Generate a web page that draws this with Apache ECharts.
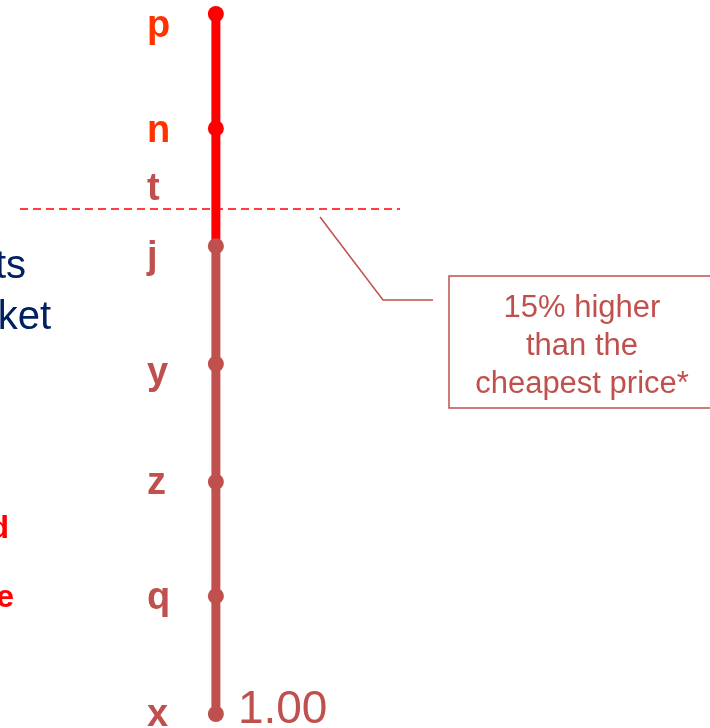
<!DOCTYPE html>
<html>
<head>
<meta charset="utf-8">
<script src="https://cdn.jsdelivr.net/npm/echarts@6/dist/echarts.min.js"></script>
<style>
html,body{margin:0;padding:0;background:#fff;}
#chart{width:710px;height:728px;}
</style>
</head>
<body>
<div id="chart"></div>
<script>
// ---- data ----
const categories = ['p', 'n', 't', 'j', 'y', 'z', 'q', 'x'];
const values     = [1.208, 1.174, 1.157, 1.139, 1.104, 1.069, 1.035, 1.00];
const hasMarker  = [true, true, false, true, true, true, true, true];
const highlighted = ['p', 'n'];
const thresholdValue = 1.15;
const annotationText = ['15% higher', 'than the', 'cheapest price*'];
const sideTextNavy = ['ts', 'ket'];
const sideTextRed = ['d', 'e'];

// ---- styles ----
const RED = '#FF0000';
const MUTED = '#C0504D';
const ORANGE = '#FF3300';
const FONT = '"Liberation Sans", Arial, sans-serif';
const labelNudge = { p: 13, n: 3, t: 4, j: 11, y: 10, z: 2, q: 2, x: 2 };

const pts = categories.map((c, i) => ({ c, v: values[i], m: hasMarker[i] }));
const marked = pts.filter(p => p.m);
const above = marked.filter(p => p.v > thresholdValue);
const below = marked.filter(p => p.v <= thresholdValue);
const minV = Math.min(...values);

const redData = above.map(p => ({ value: [0, p.v], name: p.c }))
  .concat(below.length ? [{ value: [0, below[0].v], name: below[0].c, symbol: 'none' }] : []);

const mutedData = below.map(p => {
  const item = { value: [0, p.v], name: p.c };
  if (p.v === minV) {
    item.label = {
      show: true, position: 'inside', align: 'left', verticalAlign: 'middle',
      offset: [22, -4], formatter: () => p.v.toFixed(2),
      fontSize: 46, fontFamily: FONT, color: MUTED,
      textBorderWidth: 0, textBorderColor: 'transparent'
    };
  }
  return item;
});

const labelData = pts.map(p => ({
  value: [0, p.v], name: p.c,
  label: {
    color: highlighted.includes(p.c) ? ORANGE : MUTED,
    offset: [-69, labelNudge[p.c] || 0]
  }
}));

const chart = echarts.init(document.getElementById('chart'), null, { renderer: 'canvas' });
chart.setOption({
  animation: false,
  backgroundColor: '#fff',
  grid: { left: 20, width: 380, top: 14, bottom: 14 },
  xAxis: { type: 'value', min: -1, max: 0.94, show: false },
  yAxis: { type: 'value', min: minV, max: 'dataMax', show: false },
  series: [
    {
      type: 'line', data: redData, clip: false, z: 2,
      symbol: 'circle', symbolSize: 16, showSymbol: true,
      lineStyle: { color: RED, width: 9 },
      itemStyle: { color: RED },
      label: { show: false }
    },
    {
      type: 'line', data: mutedData, clip: false, z: 3,
      symbol: 'circle', symbolSize: 16, showSymbol: true,
      lineStyle: { color: MUTED, width: 9 },
      itemStyle: { color: MUTED },
      label: { show: false },
      markLine: {
        silent: true, symbol: 'none', animation: false,
        label: { show: false },
        lineStyle: { color: RED, width: 1.5, type: [8, 5] },
        data: [{ yAxis: thresholdValue }]
      }
    },
    {
      type: 'scatter', data: labelData, clip: false, z: 4, silent: true,
      symbol: 'circle', symbolSize: 1, itemStyle: { color: 'rgba(0,0,0,0)', opacity: 1 },
      label: {
        show: true, position: 'inside', align: 'left', verticalAlign: 'middle',
        formatter: p => p.name, fontSize: 38, fontWeight: 'bold', fontFamily: FONT,
        textBorderWidth: 0, textBorderColor: 'transparent', opacity: 1
      }
    }
  ],
  graphic: [
    { type: 'text', style: { text: sideTextNavy[0], x: 26, y: 267, align: 'right', verticalAlign: 'middle', font: '40px ' + FONT, fill: '#002060' } },
    { type: 'text', style: { text: sideTextNavy[1], x: 51, y: 318, align: 'right', verticalAlign: 'middle', font: '40px ' + FONT, fill: '#002060' } },
    { type: 'text', style: { text: sideTextRed[0], x: 9, y: 529, align: 'right', verticalAlign: 'middle', font: 'bold 32px ' + FONT, fill: RED } },
    { type: 'text', style: { text: sideTextRed[1], x: 14, y: 598, align: 'right', verticalAlign: 'middle', font: 'bold 32px ' + FONT, fill: RED } },
    { type: 'polyline', shape: { points: [[320, 217], [383, 300], [433, 300]] }, style: { stroke: MUTED, lineWidth: 1.5, fill: null } },
    { type: 'rect', shape: { x: 449, y: 276, width: 280, height: 132 }, style: { stroke: MUTED, lineWidth: 1.5, fill: '#fff' } },
    { type: 'text', style: { text: annotationText.join('\n'), x: 582, y: 346, align: 'center', verticalAlign: 'middle', font: '31px ' + FONT, lineHeight: 38, fill: MUTED } }
  ]
});
</script>
</body>
</html>
